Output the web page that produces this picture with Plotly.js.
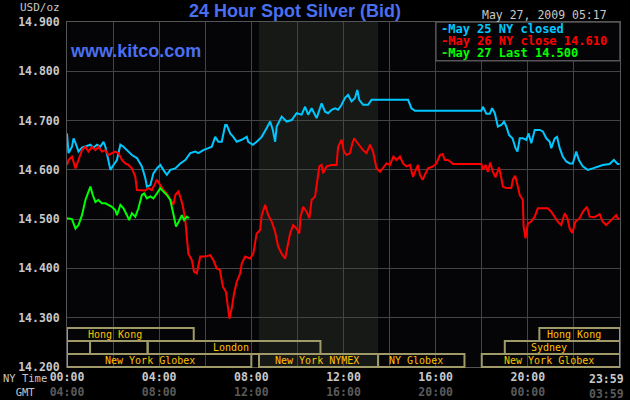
<!DOCTYPE html>
<html>
<head>
<meta charset="utf-8">
<script src="https://cdn.plot.ly/plotly-3.0.1.min.js"></script>
<style>
  html, body { margin: 0; padding: 0; background: #000; }
  #chart { width: 630px; height: 400px; }
</style>
</head>
<body>
<div id="chart"></div>
<script>
// ---- Data (minutes after midnight NY time, USD/oz) ----
const may25Min = [0,4,13,17,22,30,39,48,61,69,78,87,95,100,108,113,121,130,139,147,156,169,182,195,204,208,217,225,234,243,251,260,269,282,295,308,321,334,342,355,368,377,386,394,403,412,416,425,433,442,455,468,472,484,494,507,520,529,536,542,546,559,572,585,598,611,620,628,637,650,663,672,680,689,698,706,715,724,732,741,750,756,761,771,784,793,802,888,897,906,1079,1083,1092,1101,1107,1114,1122,1131,1138,1144,1151,1160,1168,1173,1179,1187,1196,1202,1209,1218,1231,1239,1248,1257,1261,1270,1276,1283,1291,1300,1309,1317,1326,1333,1343,1356,1369,1382,1395,1413,1424,1434,1439];
const may25Price = [14.674,14.634,14.647,14.664,14.655,14.637,14.645,14.647,14.651,14.645,14.651,14.647,14.657,14.647,14.620,14.600,14.610,14.620,14.651,14.647,14.640,14.630,14.624,14.607,14.583,14.566,14.569,14.593,14.603,14.610,14.600,14.590,14.600,14.603,14.613,14.620,14.634,14.637,14.634,14.640,14.644,14.647,14.667,14.657,14.657,14.691,14.691,14.674,14.667,14.657,14.661,14.667,14.657,14.651,14.657,14.667,14.685,14.698,14.681,14.657,14.688,14.708,14.698,14.701,14.715,14.712,14.728,14.712,14.725,14.705,14.735,14.718,14.715,14.722,14.725,14.722,14.732,14.746,14.752,14.739,14.746,14.762,14.742,14.732,14.732,14.742,14.742,14.742,14.725,14.720,14.720,14.728,14.714,14.714,14.725,14.715,14.688,14.691,14.698,14.688,14.671,14.664,14.644,14.637,14.664,14.664,14.661,14.674,14.654,14.681,14.681,14.678,14.664,14.657,14.644,14.664,14.667,14.644,14.627,14.617,14.613,14.613,14.637,14.620,14.607,14.600,14.603,14.607,14.610,14.612,14.620,14.612,14.612];

const may26Min = [0,4,13,22,30,39,48,56,65,74,82,91,100,108,117,126,134,143,152,160,169,178,182,191,204,212,221,230,234,243,251,260,269,277,282,290,296,302,308,312,316,325,331,338,342,347,360,373,381,390,398,406,414,420,423,429,435,442,451,455,464,477,485,494,503,507,516,524,533,542,550,559,568,574,581,589,598,605,608,615,624,631,637,646,652,657,663,667,676,689,702,706,715,721,728,737,743,748,754,763,771,780,789,797,802,806,815,823,832,841,850,858,867,875,884,893,901,910,914,919,926,932,940,953,962,971,978,984,992,1001,1005,1079,1083,1090,1096,1102,1109,1116,1125,1131,1135,1144,1157,1161,1167,1174,1179,1187,1189,1194,1200,1209,1218,1226,1239,1252,1261,1270,1278,1287,1296,1303,1309,1316,1324,1335,1343,1354,1361,1374,1387,1395,1404,1417,1430,1434,1439];
const may26Price = [14.610,14.620,14.627,14.603,14.620,14.640,14.647,14.637,14.647,14.640,14.647,14.637,14.640,14.630,14.634,14.637,14.634,14.620,14.613,14.610,14.603,14.586,14.559,14.559,14.558,14.563,14.559,14.573,14.580,14.569,14.559,14.552,14.539,14.529,14.549,14.556,14.543,14.525,14.498,14.464,14.430,14.417,14.393,14.390,14.407,14.424,14.424,14.427,14.417,14.400,14.397,14.363,14.352,14.315,14.298,14.319,14.349,14.373,14.390,14.410,14.424,14.420,14.430,14.471,14.478,14.508,14.529,14.508,14.495,14.474,14.444,14.430,14.420,14.444,14.471,14.488,14.481,14.471,14.505,14.525,14.515,14.502,14.539,14.546,14.580,14.607,14.610,14.593,14.607,14.610,14.610,14.647,14.661,14.637,14.630,14.634,14.654,14.664,14.657,14.647,14.640,14.634,14.651,14.637,14.613,14.603,14.596,14.603,14.613,14.610,14.627,14.620,14.627,14.613,14.607,14.610,14.586,14.603,14.610,14.590,14.580,14.590,14.603,14.607,14.613,14.630,14.632,14.620,14.620,14.615,14.612,14.612,14.600,14.610,14.596,14.615,14.596,14.585,14.605,14.583,14.566,14.563,14.563,14.580,14.588,14.566,14.549,14.539,14.485,14.461,14.491,14.495,14.505,14.522,14.522,14.522,14.515,14.505,14.495,14.488,14.512,14.502,14.481,14.472,14.495,14.502,14.515,14.525,14.505,14.504,14.510,14.495,14.488,14.498,14.508,14.502,14.500];

const may27Min = [0,13,22,30,39,48,56,61,67,74,82,91,100,108,117,126,130,139,147,156,162,169,178,186,195,201,208,217,225,234,243,251,260,269,277,284,293,299,305,312,317];
const may27Price = [14.502,14.500,14.481,14.488,14.508,14.539,14.556,14.566,14.549,14.535,14.539,14.532,14.532,14.529,14.525,14.518,14.508,14.529,14.522,14.508,14.498,14.512,14.505,14.522,14.549,14.552,14.542,14.546,14.542,14.552,14.563,14.556,14.549,14.539,14.512,14.485,14.498,14.508,14.498,14.505,14.502];

const seriesNames = ["May 25 NY closed", "May 26 NY close 14.610", "May 27 Last 14.500"];
const seriesColors = ["#00c8ff", "#ff0000", "#00ff00"];

const nyTickLabels  = ["00:00","04:00","08:00","12:00","16:00","20:00"];
const gmtTickLabels = ["04:00","08:00","12:00","16:00","20:00","00:00"];
const lastTick = ["23:59","03:59"];

// trading sessions: name, start, end (minutes NY time), row (0 = top)
const sessionNames = ["Hong Kong","Hong Kong","","","London","Sydney","New York Globex","New York NYMEX","NY Globex","New York Globex"];
const sessionStart = [0,1230,0,60,210,1140,0,500,810,1080];
const sessionEnd   = [330,1440,60,210,660,1440,480,810,1035,1440];
const sessionRow   = [0,0,1,1,1,1,2,2,2,2];
const nymexHours = [500, 810];

// ---- Layout helpers ----
const labelAt = [126,1319,null,null,427,1255,217,652,908,1254]; // label centres (minutes)
const rowTop = [0.113, 0.0755, 0.0377];
const rowBot = [0.0755, 0.0377, 0.0];
const mono = "DejaVu Sans Mono";

const traces = [
  {x: may25Min, y: may25Price},
  {x: may26Min, y: may26Price},
  {x: may27Min, y: may27Price}
].map((d, i) => ({
  x: d.x, y: d.y, type: "scatter", mode: "lines", name: seriesNames[i],
  line: {color: seriesColors[i], width: 2}, showlegend: false, hoverinfo: "skip"
}));

const tickvals = [], ticktext = [];
for (let i = 0; i < nyTickLabels.length; i++) {
  tickvals.push(i * 240);
  ticktext.push(nyTickLabels[i] + "<br><span style='fill:#5a5a5a'>" + gmtTickLabels[i] + "</span>");
}

const shapes = [
  {type: "rect", xref: "x", yref: "paper", x0: nymexHours[0], x1: nymexHours[1], y0: 0, y1: 1,
   fillcolor: "#171917", line: {width: 0}, layer: "below"}
];
const annotations = [];
for (let i = 0; i < sessionNames.length; i++) {
  shapes.push({type: "rect", xref: "x", yref: "paper",
    x0: sessionStart[i], x1: sessionEnd[i], y0: rowBot[sessionRow[i]], y1: rowTop[sessionRow[i]],
    line: {color: "#a09a68", width: 2}, fillcolor: "rgba(0,0,0,0)"});
  if (sessionNames[i]) {
    annotations.push({xref: "x", yref: "paper", x: labelAt[i],
      y: (rowTop[sessionRow[i]] + rowBot[sessionRow[i]]) / 2,
      text: sessionNames[i], showarrow: false, xanchor: "center", yanchor: "middle",
      font: {family: mono, size: 10, color: "#ffc000"}});
  }
}
// legend box
shapes.push({type: "rect", xref: "paper", yref: "paper", x0: 0.667, x1: 1, y0: 0.888, y1: 1,
  fillcolor: "#050508", line: {color: "#555555", width: 1.5}});
const legY = [0.981, 0.946, 0.911];
for (let i = 0; i < seriesNames.length; i++) {
  annotations.push({xref: "paper", yref: "paper", x: 0.675, y: legY[i], xanchor: "left", yanchor: "middle",
    text: "<b>-" + seriesNames[i] + "</b>", showarrow: false, borderpad: 0,
    font: {family: mono, size: 12, color: seriesColors[i]}});
}
// other texts
annotations.push(
  {xref: "paper", yref: "paper", x: 0.413, y: 1.033, text: "<b>24 Hour Spot Silver (Bid)</b>",
   showarrow: false, xanchor: "center", yanchor: "middle",
   font: {family: "Liberation Sans, Arial", size: 18, color: "#4a6ff0"}},
  {xref: "paper", yref: "paper", x: 0.002, y: 0.917, text: "<b>www.kitco.com</b>",
   showarrow: false, xanchor: "left", yanchor: "middle",
   font: {family: "Liberation Sans, Arial", size: 18, color: "#4a6ff0"}},
  {xref: "paper", yref: "paper", x: 0.98, y: 1.021, text: "May 27, 2009 05:17",
   showarrow: false, xanchor: "right", yanchor: "middle",
   font: {family: mono, size: 11.5, color: "#c8c8c8"}},
  {xref: "paper", yref: "paper", x: -0.0085, y: 1.041, text: "USD/oz",
   showarrow: false, xanchor: "right", yanchor: "middle",
   font: {family: mono, size: 11, color: "#c8c8c8"}},
  {xref: "paper", yref: "paper", x: -0.076, y: -0.01, text: "NY Time<br>GMT",
   showarrow: false, xanchor: "center", yanchor: "top", align: "center",
   font: {family: mono, size: 10.5, color: "#c8c8c8"}},
  {xref: "x", yref: "paper", x: 1440, xshift: 6, y: -0.008,
   text: "<b>" + lastTick[0] + "</b><br><b><span style='fill:#5a5a5a'>" + lastTick[1] + "</span></b>",
   showarrow: false, xanchor: "right", yanchor: "top",
   font: {family: mono, size: 11.5, color: "#c8c8c8"}}
);

const layout = {
  width: 630, height: 400,
  margin: {l: 66.7, r: 10, t: 22.3, b: 33.3, pad: 0},
  paper_bgcolor: "#000000",
  plot_bgcolor: "#050508",
  xaxis: {
    range: [0, 1440], tickvals: tickvals, ticktext: ticktext,
    showgrid: true, gridcolor: "#444444", gridwidth: 1,
    minor: {dtick: 120, tick0: 0, showgrid: true, gridcolor: "#444444", gridwidth: 1},
    showline: true, linecolor: "#555555", linewidth: 1, mirror: true,
    zeroline: false, ticks: "", fixedrange: true,
    tickfont: {family: mono, size: 11.5, color: "#c8c8c8", weight: "bold"},
    ticklabelstandoff: -1
  },
  yaxis: {
    range: [14.2, 14.9], dtick: 0.1, tick0: 14.2, tickformat: ".3f",
    showgrid: true, gridcolor: "#444444", gridwidth: 1,
    showline: true, linecolor: "#555555", linewidth: 1, mirror: true,
    zeroline: false, ticks: "", fixedrange: true,
    tickfont: {family: mono, size: 11.5, color: "#c8c8c8", weight: "bold"},
    ticklabelstandoff: 4
  },
  shapes: shapes,
  annotations: annotations,
  showlegend: false
};

Plotly.newPlot("chart", traces, layout, {displayModeBar: false, staticPlot: true});
</script>
</body>
</html>
